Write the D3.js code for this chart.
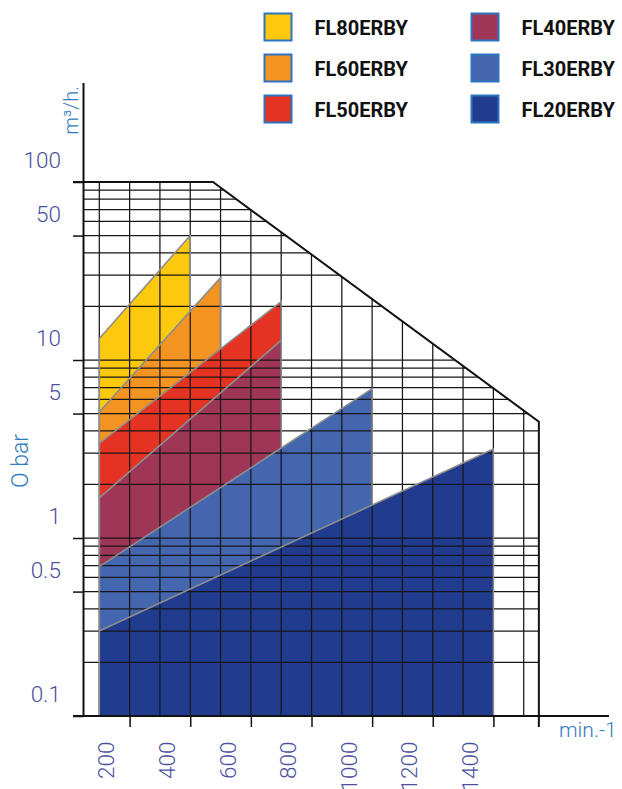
<!DOCTYPE html>
<html>
<head>
<meta charset="utf-8">
<script src="https://cdn.jsdelivr.net/npm/d3@7"></script>
<style>
  html, body { margin: 0; padding: 0; background: #fff; }
  svg { display: block; }
</style>
</head>
<body>
<script>
// Pump models and their operating bands (speed in min-1, flow in m3/h)
const categories   = ["FL80ERBY", "FL60ERBY", "FL50ERBY", "FL40ERBY", "FL30ERBY", "FL20ERBY"];
const rpmStart     = [200, 200, 200, 200, 200, 200];
const rpmEnd       = [500, 600, 800, 800, 1100, 1500];
const flowAtStart  = [13.2, 5.1, 3.4, 1.68, 0.69, 0.3];
const flowAtEnd    = [50, 29, 21.3, 12.9, 6.9, 3.16];
const seriesColors = ["#fdc90f", "#f39422", "#e53323", "#9e3658", "#4366ae", "#213c8f"];

// Outer envelope of the chart (top-right sloping limit)
const envelopeRpm  = [575, 1650];
const envelopeFlow = [100, 4.5];

// Axis ticks and labels
const yLabelValues = [0.1, 0.5, 1, 5, 10, 50, 100];
const yLabelText   = ["0.1", "0.5", "1", "5", "10", "50", "100"];
const xLabelValues = [200, 400, 600, 800, 1000, 1200, 1400];
const xTickValues  = [300, 500, 700, 900, 1100, 1300, 1500];

const W = 622, H = 789;
const svg = d3.select("body").append("svg").attr("width", W).attr("height", H);

const y = d3.scaleLog().domain([0.1, 100]).range([716, 182]);
const x = d3.scaleLinear().domain([200, 1600]).range([99.3, 523.7]);
const axisX = 83.5;
const yBottom = y(0.1);

const gridColor = "#161616";
const labelColor = "#4a4f9e";
const titleColor = "#2f7bc0";

// Flow on the top edge of band j at speed r (straight in log space)
function topAt(j, r) {
  if (r < rpmStart[j] || r > rpmEnd[j]) return null;
  const t = (r - rpmStart[j]) / (rpmEnd[j] - rpmStart[j]);
  return Math.exp(Math.log(flowAtStart[j]) + t * (Math.log(flowAtEnd[j]) - Math.log(flowAtStart[j])));
}

// Bands filled from the largest model down; later bands overlap earlier ones
const bands = svg.append("g");
categories.forEach((c, i) => {
  bands.append("path")
    .attr("d", d3.line()([
      [x(rpmStart[i]), yBottom],
      [x(rpmStart[i]), y(flowAtStart[i])],
      [x(rpmEnd[i]), y(flowAtEnd[i])],
      [x(rpmEnd[i]), yBottom]
    ]))
    .attr("fill", seriesColors[i]);
});

// Clip region bounded by the envelope
const clipPts = [
  [axisX, y(envelopeFlow[0])],
  [x(envelopeRpm[0]), y(envelopeFlow[0])],
  [x(envelopeRpm[1]), y(envelopeFlow[1])],
  [x(envelopeRpm[1]), yBottom],
  [axisX, yBottom]
];
svg.append("clipPath").attr("id", "env")
  .append("polygon").attr("points", clipPts.map(p => p.join(",")).join(" "));

// Logarithmic grid
const hGrid = [];
[0.1, 1, 10].forEach(d => { for (let k = 1; k <= 9; k++) hGrid.push(+(d * k).toPrecision(3)); });
const vGrid = d3.range(200, 1601, 100);

const grid = svg.append("g").attr("clip-path", "url(#env)")
  .attr("stroke", gridColor).attr("stroke-width", 1.25);
grid.selectAll("line.h").data(hGrid).join("line")
  .attr("x1", axisX).attr("x2", x(envelopeRpm[1]))
  .attr("y1", d => y(d)).attr("y2", d => y(d));
grid.selectAll("line.v").data(vGrid).join("line")
  .attr("x1", d => x(d)).attr("x2", d => x(d))
  .attr("y1", y(100)).attr("y2", yBottom);

// Band outlines, only where each band stays visible
const outlines = svg.append("g").attr("fill", "none")
  .attr("stroke", "#8d8d8d").attr("stroke-width", 1.6).attr("stroke-linejoin", "miter");
categories.forEach((c, i) => {
  let leftLow = 0.1;
  for (let j = i + 1; j < categories.length; j++) leftLow = Math.max(leftLow, topAt(j, rpmStart[i]) || 0.1);
  let rightLow = 0.1;
  for (let j = i + 1; j < categories.length; j++) {
    const v = topAt(j, rpmEnd[i]);
    if (v !== null) rightLow = Math.max(rightLow, v);
  }
  outlines.append("path").attr("d", d3.line()([
    [x(rpmStart[i]), y(leftLow)],
    [x(rpmStart[i]), y(flowAtStart[i])],
    [x(rpmEnd[i]), y(flowAtEnd[i])],
    [x(rpmEnd[i]), y(rightLow)]
  ]));
});

// Envelope border
svg.append("path")
  .attr("d", d3.line()([
    [axisX - 10.5, y(envelopeFlow[0])],
    [x(envelopeRpm[0]), y(envelopeFlow[0])],
    [x(envelopeRpm[1]), y(envelopeFlow[1])],
    [x(envelopeRpm[1]), yBottom + 11]
  ]))
  .attr("fill", "none").attr("stroke", "#111").attr("stroke-width", 2);

// Axes
svg.append("line").attr("x1", axisX).attr("x2", axisX).attr("y1", 83).attr("y2", yBottom)
  .attr("stroke", "#111").attr("stroke-width", 2);
svg.append("line").attr("x1", axisX - 10.5).attr("x2", 609).attr("y1", yBottom).attr("y2", yBottom)
  .attr("stroke", "#111").attr("stroke-width", 2);

// Y axis ticks and labels (labels sit just above their grid line)
const yAxis = svg.append("g").attr("transform", `translate(${axisX},0)`)
  .call(d3.axisLeft(y).tickValues(yLabelValues).tickSize(10.5)
    .tickFormat((d, i) => yLabelText[i]));
yAxis.select(".domain").remove();
yAxis.selectAll(".tick line").attr("stroke", "#111").attr("stroke-width", 1.5);
yAxis.selectAll(".tick text")
  .attr("x", -22.5).attr("y", -14.5).attr("dy", 0)
  .attr("fill", labelColor)
  .style("font-family", "Roboto, 'DejaVu Sans', sans-serif")
  .style("font-weight", 300)
  .style("font-size", "22.5px");

// X axis tick marks
const xAxis = svg.append("g").attr("transform", `translate(0,${yBottom})`)
  .call(d3.axisBottom(x).tickValues(xTickValues).tickSize(11).tickFormat(""));
xAxis.select(".domain").remove();
xAxis.selectAll(".tick line").attr("stroke", "#111").attr("stroke-width", 1.5);

// X labels, rotated
svg.append("g").selectAll("text").data(xLabelValues).join("text")
  .attr("transform", d => `translate(${x(d) + 15},741.5) rotate(-90)`)
  .attr("text-anchor", "end")
  .attr("fill", labelColor)
  .style("font-family", "Roboto, 'DejaVu Sans', sans-serif")
  .style("font-weight", 300)
  .style("font-size", "22.5px")
  .text(d => d);

// Axis titles
const titleFont = "Roboto, 'DejaVu Sans', sans-serif";
svg.append("text")
  .attr("transform", "translate(78,86) rotate(-90)")
  .attr("text-anchor", "end").attr("fill", titleColor)
  .style("font-family", titleFont).style("font-weight", 300).style("font-size", "20px")
  .text("m³/h.");
svg.append("text")
  .attr("transform", "translate(28,461) rotate(-90)")
  .attr("text-anchor", "middle").attr("fill", titleColor)
  .style("font-family", titleFont).style("font-weight", 300).style("font-size", "23px")
  .text("O bar");
svg.append("text")
  .attr("x", 559).attr("y", 737).attr("fill", titleColor)
  .style("font-family", titleFont).style("font-weight", 300).style("font-size", "21px")
  .text("min.-1");

// Legend: two columns of three
const legend = svg.append("g");
categories.forEach((c, i) => {
  const col = Math.floor(i / 3), row = i % 3;
  const gx = col === 0 ? 264.5 : 471.5;
  const gy = 13.5 + row * 41;
  legend.append("rect")
    .attr("x", gx).attr("y", gy).attr("width", 27).attr("height", 27)
    .attr("fill", seriesColors[i]).attr("stroke", "#2c74c0").attr("stroke-width", 2);
  legend.append("text")
    .attr("x", gx + 50).attr("y", gy + 21.5)
    .attr("fill", "#111")
    .style("font-family", "Roboto, 'DejaVu Sans', sans-serif")
    .style("font-weight", 700).style("font-size", "20px")
    .text(c);
});
</script>
</body>
</html>
